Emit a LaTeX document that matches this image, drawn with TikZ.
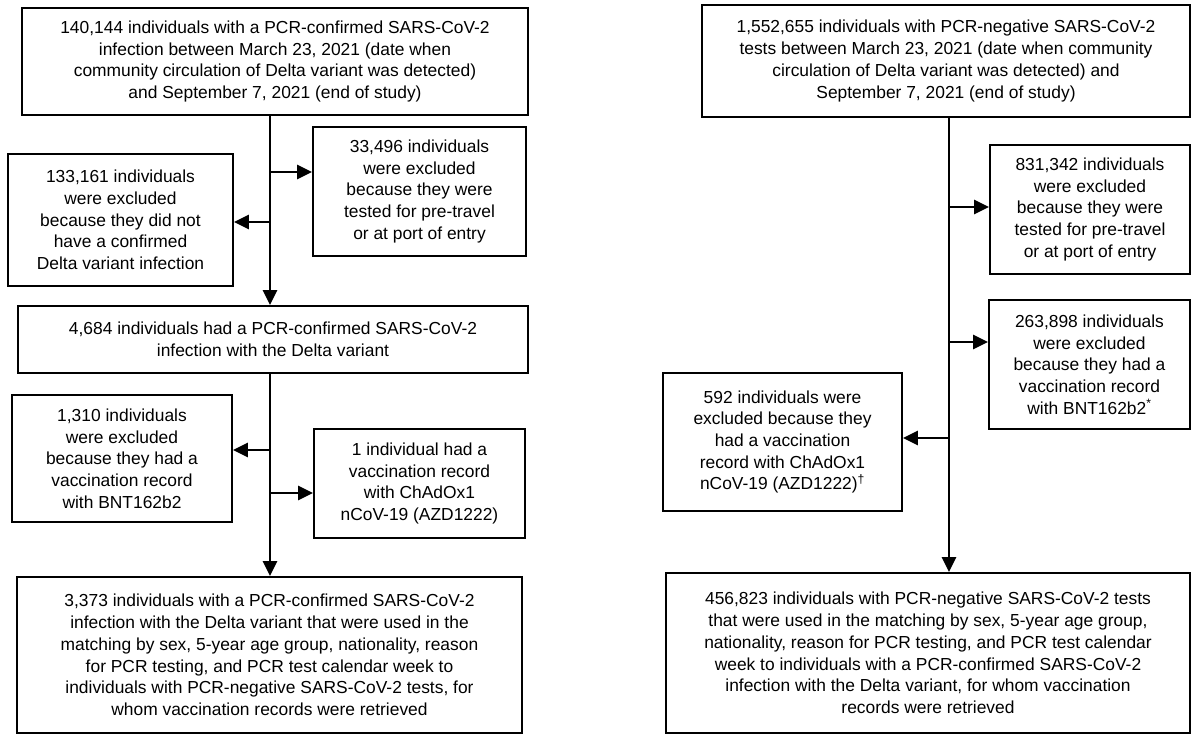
\documentclass[tikz,border=0pt]{standalone}
\usepackage{fontspec}
\setmainfont{Liberation Sans}
\usetikzlibrary{arrows.meta}
\begin{document}
\begin{tikzpicture}[x=1pt,y=-1pt,
  box/.style={draw=black, line width=1.8pt, align=center, inner sep=0pt,
    font=\fontsize{17.4}{21.7}\selectfont},
  conn/.style={line width=2.7pt, -{Triangle[length=15pt,width=14pt]}},
  trunk/.style={line width=2.7pt}]
\useasboundingbox (0,0) rectangle (1192,735);
% ---------- left column ----------
\node[box, minimum width=506pt, minimum height=107pt] (A) at (275,61.5)
  {140,144 individuals with a PCR-confirmed SARS-CoV-2\\
   infection between March 23, 2021 (date when\\
   community circulation of Delta variant was detected)\\
   and September 7, 2021 (end of study)};
\node[box, minimum width=225pt, minimum height=132pt] (L1) at (120.5,220)
  {133,161 individuals\\ were excluded\\ because they did not\\ have a confirmed\\ Delta variant infection};
\node[box, minimum width=213pt, minimum height=129pt] (R1) at (419.5,191.5)
  {33,496 individuals\\ were excluded\\ because they were\\ tested for pre-travel\\ or at port of entry};
\node[box, minimum width=510pt, minimum height=67pt] (B) at (273,339.5)
  {4,684 individuals had a PCR-confirmed SARS-CoV-2\\ infection with the Delta variant};
\node[box, minimum width=220pt, minimum height=127pt] (L2) at (122,458.5)
  {1,310 individuals\\ were excluded\\ because they had a\\ vaccination record\\ with BNT162b2};
\node[box, minimum width=211pt, minimum height=109pt] (R2) at (419.5,483.5)
  {1 individual had a\\ vaccination record\\ with ChAdOx1\\ nCoV-19 (AZD1222)};
\node[box, minimum width=505pt, minimum height=156pt] (C) at (269.5,655)
  {3,373 individuals with a PCR-confirmed SARS-CoV-2\\
   infection with the Delta variant that were used in the\\
   matching by sex, 5-year age group, nationality, reason\\
   for PCR testing, and PCR test calendar week to\\
   individuals with PCR-negative SARS-CoV-2 tests, for\\
   whom vaccination records were retrieved};
% ---------- right column ----------
\node[box, minimum width=488pt, minimum height=112pt] (D) at (946,61)
  {1,552,655 individuals with PCR-negative SARS-CoV-2\\
   tests between March 23, 2021 (date when community\\
   circulation of Delta variant was detected) and\\
   September 7, 2021 (end of study)};
\node[box, minimum width=200pt, minimum height=129pt] (E1) at (1090,209.5)
  {831,342 individuals\\ were excluded\\ because they were\\ tested for pre-travel\\ or at port of entry};
\node[box, minimum width=201pt, minimum height=129pt] (E2) at (1089.5,364.5)
  {263,898 individuals\\ were excluded\\ because they had a\\ vaccination record\\ with BNT162b2\textsuperscript{*}};
\node[box, minimum width=239pt, minimum height=138pt] (E3) at (782.5,442)
  {592 individuals were\\ excluded because they\\ had a vaccination\\ record with ChAdOx1\\ nCoV-19 (AZD1222)\textsuperscript{†}};
\node[box, minimum width=524pt, minimum height=160pt] (F) at (928,653)
  {456,823 individuals with PCR-negative SARS-CoV-2 tests\\
   that were used in the matching by sex, 5-year age group,\\
   nationality, reason for PCR testing, and PCR test calendar\\
   week to individuals with a PCR-confirmed SARS-CoV-2\\
   infection with the Delta variant, for whom vaccination\\
   records were retrieved};
% ---------- connectors ----------
\coordinate (lx) at (270,0);
\coordinate (rx) at (949,0);
\coordinate (j1) at (270,172);
\coordinate (j2) at (270,222);
\coordinate (j3) at (270,450);
\coordinate (j4) at (270,493);
\coordinate (k1) at (949,207);
\coordinate (k2) at (949,342);
\coordinate (k3) at (949,438);
\draw[conn] (A.south -| lx) -- (B.north -| lx);
\draw[conn] (j1) -- (j1 -| R1.west);
\draw[conn] (j2) -- (j2 -| L1.east);
\draw[conn] (B.south -| lx) -- (C.north -| lx);
\draw[conn] (j3) -- (j3 -| L2.east);
\draw[conn] (j4) -- (j4 -| R2.west);
\draw[conn] (D.south -| rx) -- (F.north -| rx);
\draw[conn] (k1) -- (k1 -| E1.west);
\draw[conn] (k2) -- (k2 -| E2.west);
\draw[conn] (k3) -- (k3 -| E3.east);
\end{tikzpicture}
\end{document}
